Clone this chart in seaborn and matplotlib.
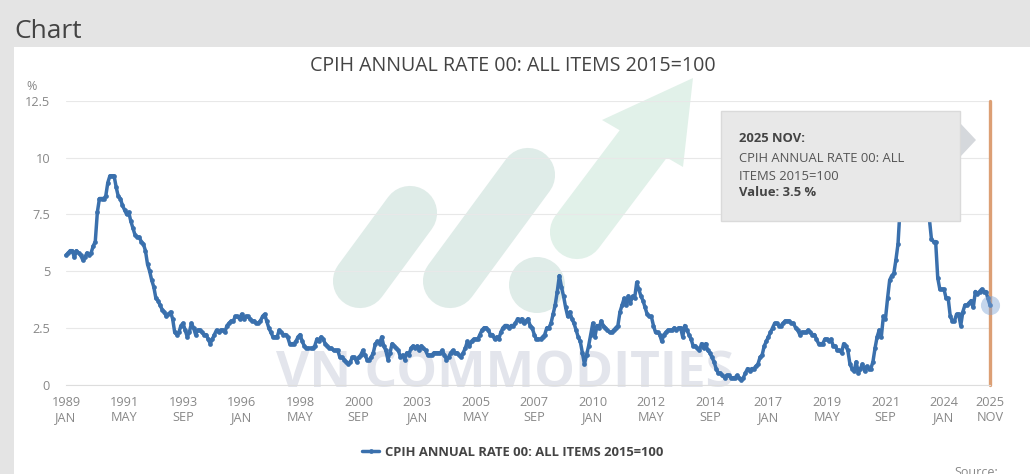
import numpy as np
import pandas as pd
import matplotlib
matplotlib.use("Agg")
import matplotlib.pyplot as plt
from matplotlib.patches import Polygon, Rectangle, Circle
import seaborn as sns

series_name = "CPIH ANNUAL RATE 00: ALL ITEMS 2015=100"

# monthly values, one row per year from 1989 JAN
rates = [
    5.7, 5.8, 5.9, 5.9, 5.6, 5.9, 5.8, 5.7, 5.5, 5.6, 5.8, 5.7,  # 1989
    5.8, 6.1, 6.3, 7.6, 8.2, 8.2, 8.2, 8.3, 8.9, 9.2, 9.2, 9.2,  # 1990
    8.7, 8.3, 8.2, 7.9, 7.7, 7.5, 7.6, 7.2, 6.9, 6.6, 6.5, 6.5,  # 1991
    6.3, 6.2, 5.9, 5.3, 5.0, 4.6, 4.3, 3.8, 3.7, 3.5, 3.3, 3.2,  # 1992
    3.0, 3.1, 3.2, 2.9, 2.3, 2.2, 2.3, 2.6, 2.7, 2.4, 2.1, 2.3,  # 1993
    2.7, 2.5, 2.2, 2.4, 2.4, 2.3, 2.2, 2.2, 2.0, 1.8, 2.0, 2.2,  # 1994
    2.4, 2.3, 2.4, 2.4, 2.3, 2.6, 2.7, 2.8, 2.8, 3.0, 3.0, 2.9,  # 1995
    3.1, 2.9, 3.0, 3.0, 2.9, 2.8, 2.8, 2.7, 2.7, 2.8, 3.0, 3.1,  # 1996
    2.8, 2.5, 2.3, 2.1, 2.1, 2.1, 2.4, 2.3, 2.2, 2.2, 2.1, 1.8,  # 1997
    1.8, 1.8, 1.9, 2.1, 2.2, 1.9, 1.7, 1.6, 1.6, 1.6, 1.6, 1.7,  # 1998
    2.0, 1.9, 2.1, 2.0, 1.8, 1.7, 1.6, 1.6, 1.5, 1.5, 1.5, 1.2,  # 1999
    1.2, 1.1, 1.0, 0.9, 1.0, 1.2, 1.2, 1.0, 1.2, 1.3, 1.5, 1.3,  # 2000
    1.1, 1.1, 1.2, 1.4, 1.8, 1.9, 1.8, 2.1, 1.7, 1.5, 1.1, 1.4,  # 2001
    1.8, 1.7, 1.6, 1.5, 1.2, 1.3, 1.1, 1.4, 1.3, 1.6, 1.7, 1.6,  # 2002
    1.7, 1.5, 1.7, 1.6, 1.5, 1.3, 1.3, 1.3, 1.4, 1.4, 1.4, 1.4,  # 2003
    1.5, 1.3, 1.1, 1.2, 1.4, 1.5, 1.4, 1.4, 1.3, 1.2, 1.4, 1.6,  # 2004
    1.9, 1.7, 1.9, 2.0, 2.0, 2.0, 2.2, 2.4, 2.5, 2.5, 2.4, 2.2,  # 2005
    2.2, 2.0, 2.1, 2.0, 2.3, 2.5, 2.6, 2.6, 2.5, 2.6, 2.6, 2.7,  # 2006
    2.9, 2.8, 2.9, 2.7, 2.8, 2.9, 2.6, 2.5, 2.2, 2.0, 2.0, 2.0,  # 2007
    2.1, 2.2, 2.5, 2.5, 2.7, 3.1, 3.5, 4.1, 4.8, 4.3, 3.9, 3.4,  # 2008
    3.0, 3.2, 2.9, 2.7, 2.4, 2.1, 1.9, 1.4, 0.9, 1.3, 1.7, 2.2,  # 2009
    2.7, 2.1, 2.6, 2.5, 2.8, 2.6, 2.5, 2.4, 2.3, 2.3, 2.4, 2.5,  # 2010
    2.6, 3.2, 3.5, 3.8, 3.5, 3.9, 3.6, 3.9, 3.8, 4.5, 4.2, 3.9,  # 2011
    3.7, 3.4, 3.1, 3.0, 3.0, 2.6, 2.3, 2.3, 2.2, 1.9, 2.2, 2.3,  # 2012
    2.4, 2.4, 2.4, 2.5, 2.4, 2.5, 2.5, 2.1, 2.6, 2.4, 2.2, 2.0,  # 2013
    1.7, 1.7, 1.6, 1.5, 1.8, 1.6, 1.8, 1.5, 1.4, 1.2, 1.0, 0.7,  # 2014
    0.5, 0.5, 0.4, 0.3, 0.4, 0.4, 0.3, 0.3, 0.3, 0.4, 0.3, 0.2,  # 2015
    0.3, 0.5, 0.7, 0.6, 0.7, 0.7, 0.8, 0.9, 1.2, 1.3, 1.7, 1.9,  # 2016
    2.1, 2.3, 2.5, 2.7, 2.7, 2.6, 2.6, 2.7, 2.8, 2.8, 2.8, 2.7,  # 2017
    2.7, 2.5, 2.4, 2.2, 2.3, 2.3, 2.3, 2.4, 2.3, 2.2, 2.2, 2.0,  # 2018
    1.8, 1.8, 1.8, 2.0, 2.0, 1.9, 2.0, 1.7, 1.7, 1.5, 1.5, 1.4,  # 2019
    1.8, 1.7, 1.5, 0.9, 0.7, 0.6, 1.0, 0.5, 0.7, 0.9, 0.6, 0.8,  # 2020
    0.7, 0.7, 1.0, 1.6, 2.1, 2.4, 2.1, 3.0, 2.9, 3.8, 4.6, 4.8,  # 2021
    4.9, 5.5, 6.2, 7.8, 7.9, 8.2, 8.8, 8.6, 8.8, 9.6, 9.3, 9.2,  # 2022
    8.8, 9.2, 8.9, 7.8, 7.9, 7.3, 6.4, 6.3, 6.3, 4.7, 4.2, 4.2,  # 2023
    4.2, 3.8, 3.8, 3.0, 2.8, 2.8, 3.1, 3.1, 2.6, 3.2, 3.5, 3.5,  # 2024
    3.6, 3.7, 3.4, 4.1, 4.0, 4.1, 4.2, 4.1, 4.1, 3.8, 3.5,  # 2025
]

x_tick_years = [1989, 1991, 1993, 1996, 1998, 2000, 2003, 2005, 2007, 2010, 2012, 2014, 2017, 2019, 2021, 2024, 2025]
x_tick_months = ["JAN", "MAY", "SEP", "JAN", "MAY", "SEP", "JAN", "MAY", "SEP", "JAN", "MAY", "SEP", "JAN", "MAY", "SEP", "JAN", "NOV"]
y_ticks = [0, 2.5, 5, 7.5, 10, 12.5]
y_tick_labels = ["0", "2.5", "5", "7.5", "10", "12.5"]

month_num = {"JAN": 0, "MAY": 4, "SEP": 8, "NOV": 10}
df = pd.DataFrame({"month": np.arange(len(rates)), "rate": rates})
x_ticks = [(y - 1989) * 12 + month_num[m] for y, m in zip(x_tick_years, x_tick_months)]

sns.set_style("white")
plt.rcParams["font.family"] = ["Open Sans", "DejaVu Sans"]

W, H = 1030, 474
fig = plt.figure(figsize=(W / 100, H / 100), dpi=100, facecolor="#e4e4e4")

# back layer in pixel coords: white panel and the watermark
bg = fig.add_axes([0, 0, 1, 1], zorder=0)
bg.set_xlim(0, W)
bg.set_ylim(H, 0)
bg.axis("off")
bg.add_patch(Rectangle((14, 47), W - 14, H - 47, fc="white", ec="none"))

pill = "#dfece8"
arrow = "#e1f1e9"
bg.plot([410, 360], [213, 281], color=pill, lw=39, solid_capstyle="round")
bg.plot([528, 450], [175, 281], color=pill, lw=39, solid_capstyle="round")
bg.add_patch(Circle((537, 285), 28, fc=pill, ec="none"))
bg.plot([577, 650], [232, 135], color=arrow, lw=39, solid_capstyle="round")
bg.add_patch(Polygon([(693, 78), (602, 120), (683, 167)], closed=True, fc=arrow, ec="none"))
bg.text(505, 374, "VN COMMODITIES", fontsize=37, fontweight="bold", color="#e3e5ec",
        ha="center", va="center")

bg.text(14, 31, "Chart", fontsize=19, color="#444444", va="center", ha="left")
bg.text(513, 66, series_name, fontsize=14.1, color="#444444", va="center", ha="center")
bg.text(26, 86, "%", fontsize=9, color="#888888", va="center", ha="left")
bg.text(954, 466, "Source:", fontsize=9, color="#888888", va="top", ha="left")

# main chart
ax = fig.add_axes([66 / W, 1 - 384.5 / H, 924 / W, 283.5 / H], zorder=1)
ax.patch.set_alpha(0)
sns.lineplot(data=df, x="month", y="rate", ax=ax, color="#3a70ad", linewidth=2.5,
             marker="o", markersize=3.4, markeredgewidth=0, label=series_name, zorder=3, clip_on=False)

ax.set_xlim(0, len(rates) - 1)
ax.set_ylim(0, 12.5)
ax.set_xlabel("")
ax.set_ylabel("")
ax.set_yticks(y_ticks)
ax.set_yticklabels(y_tick_labels)
ax.set_xticks(x_ticks)
ax.set_xticklabels([f"{y}\n{m}" for y, m in zip(x_tick_years, x_tick_months)])
ax.tick_params(axis="y", length=0, pad=11.5, labelsize=9.2, labelcolor="#888888")
ax.tick_params(axis="x", length=4, width=0.8, color="#dddddd", pad=4.5, labelsize=9.2, labelcolor="#888888")
ax.yaxis.grid(True, color="#e8e8e8", lw=0.8)
ax.set_axisbelow(True)
sns.despine(ax=ax, left=True, right=True, top=True)
ax.spines["bottom"].set_color("#dddddd")

# crosshair and highlighted last point
ax.axvline(len(rates) - 1, color="#dc9f74", lw=2.4, zorder=2, clip_on=False)
ax.scatter([len(rates) - 1], [rates[-1]], s=190, color="#7fa5d6", alpha=0.45, lw=0, zorder=4, clip_on=False)

leg = ax.legend(loc="center", bbox_to_anchor=(513 / W, 1 - 452 / H), bbox_transform=fig.transFigure,
                frameon=False, fontsize=9.4, handlelength=1.25, handletextpad=0.5)
for t in leg.get_texts():
    t.set_fontweight("bold")
    t.set_color("#444444")

# tooltip on top
top = fig.add_axes([0, 0, 1, 1], zorder=2)
top.set_xlim(0, W)
top.set_ylim(H, 0)
top.axis("off")
top.patch.set_alpha(0)
top.add_patch(Rectangle((721, 111), 239, 110, fc="#e8e8e8", ec="#dadada", lw=1))
top.add_patch(Polygon([(961, 124), (976, 140), (961, 156)], closed=True, fc="#d5d8dc", ec="none"))
top.text(739, 139, "2025 NOV:", fontsize=9.4, fontweight="bold", color="#444444", va="center")
top.text(739, 158, "CPIH ANNUAL RATE 00: ALL", fontsize=9.4, color="#555555", va="center")
top.text(739, 176, "ITEMS 2015=100", fontsize=9.4, color="#555555", va="center")
top.text(739, 193, f"Value: {rates[-1]} %", fontsize=9.4, fontweight="bold", color="#444444", va="center")

fig.savefig("out.png", dpi=100, facecolor=fig.get_facecolor())
